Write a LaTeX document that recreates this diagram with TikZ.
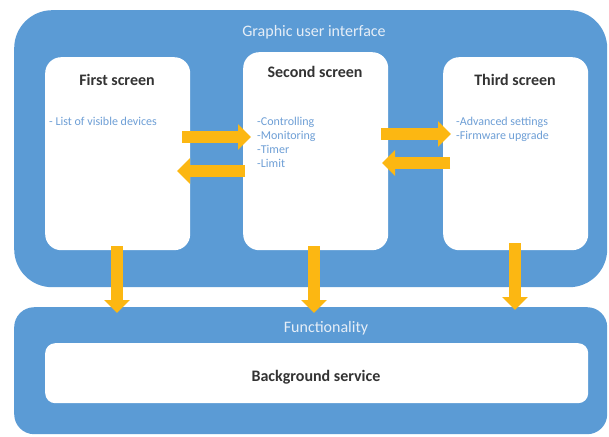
\documentclass[tikz,border=0pt]{standalone}
\usepackage{fontspec}
\setmainfont{Carlito}
\usetikzlibrary{arrows.meta}
\definecolor{gblue}{HTML}{5B9BD5}
\definecolor{gorange}{HTML}{FCB712}
\definecolor{ltext}{HTML}{6E9FD6}
\definecolor{wtext}{HTML}{E6EEF7}
\begin{document}
\begin{tikzpicture}[x=1pt,y=-1pt,
  bigbox/.style={fill=gblue, draw=none, anchor=north west, inner sep=0pt},
  screen/.style={fill=white, draw=none, rounded corners=16pt, anchor=north west, inner sep=0pt, minimum width=145pt, minimum height=193pt},
  title/.style={font=\fontsize{16}{18}\selectfont\bfseries, text=black!80, anchor=base},
  header/.style={font=\fontsize{16}{18}\selectfont, text=wtext, anchor=base},
  listtxt/.style={font=\fontsize{12}{14.3}\selectfont, text=ltext, align=left, anchor=north west, inner sep=0pt},
  fatarrow/.style={draw=gorange, line width=12pt, -{Triangle[width=25pt,length=13pt]}}
]
\useasboundingbox (0,0) rectangle (609,436);
\fill[white] (0,0) rectangle (609,436);
% big boxes
\node[bigbox, rounded corners=38pt, minimum width=593pt, minimum height=277pt] (gui) at (14,10) {};
\node[bigbox, rounded corners=20pt, minimum width=593pt, minimum height=127pt] (func) at (14,307) {};
\node[header] (guit) at (314,37) {Graphic user interface};
\node[header] (funct) at (326,332) {Functionality};
% screens
\node[screen] (s1) at (45,57) {};
\node[screen, minimum height=198pt] (s2) at (243,52) {};
\node[screen] (s3) at (443,57) {};
\node[title] (s1t) at (117,85) {First screen};
\node[title] (s2t) at (315,77) {Second screen};
\node[title] (s3t) at (515,85) {Third screen};
\node[listtxt] (l1) at (49,116.5) {- List of visible devices};
\node[listtxt] (l2) at (257,116.5) {-Controlling\\-Monitoring\\-Timer\\-Limit};
\node[listtxt] (l3) at (456,116.5) {-Advanced settings\\-Firmware upgrade};
% background service
\node[fill=white, draw=none, rounded corners=10pt, anchor=north west, minimum width=543pt, minimum height=60pt, inner sep=0pt] (bg) at (45,343) {};
\node[title] (bgt) at (316,381) {Background service};
% arrow coordinates
\coordinate (r1a) at (182,137); \coordinate (r1b) at (251,137);
\coordinate (l1a) at (245,171); \coordinate (l1b) at (177,171);
\coordinate (r2a) at (381,134); \coordinate (r2b) at (451,134);
\coordinate (l2a) at (450,163); \coordinate (l2b) at (382,163);
\coordinate (d1a) at (117,246); \coordinate (d1b) at (117,313);
\coordinate (d2a) at (314,246); \coordinate (d2b) at (314,313);
\coordinate (d3a) at (515,243); \coordinate (d3b) at (515,310);
\foreach \a/\b in {r1a/r1b,l1a/l1b,r2a/r2b,l2a/l2b,d1a/d1b,d2a/d2b,d3a/d3b}
  \draw[fatarrow] (\a) -- (\b);
\end{tikzpicture}
\end{document}
